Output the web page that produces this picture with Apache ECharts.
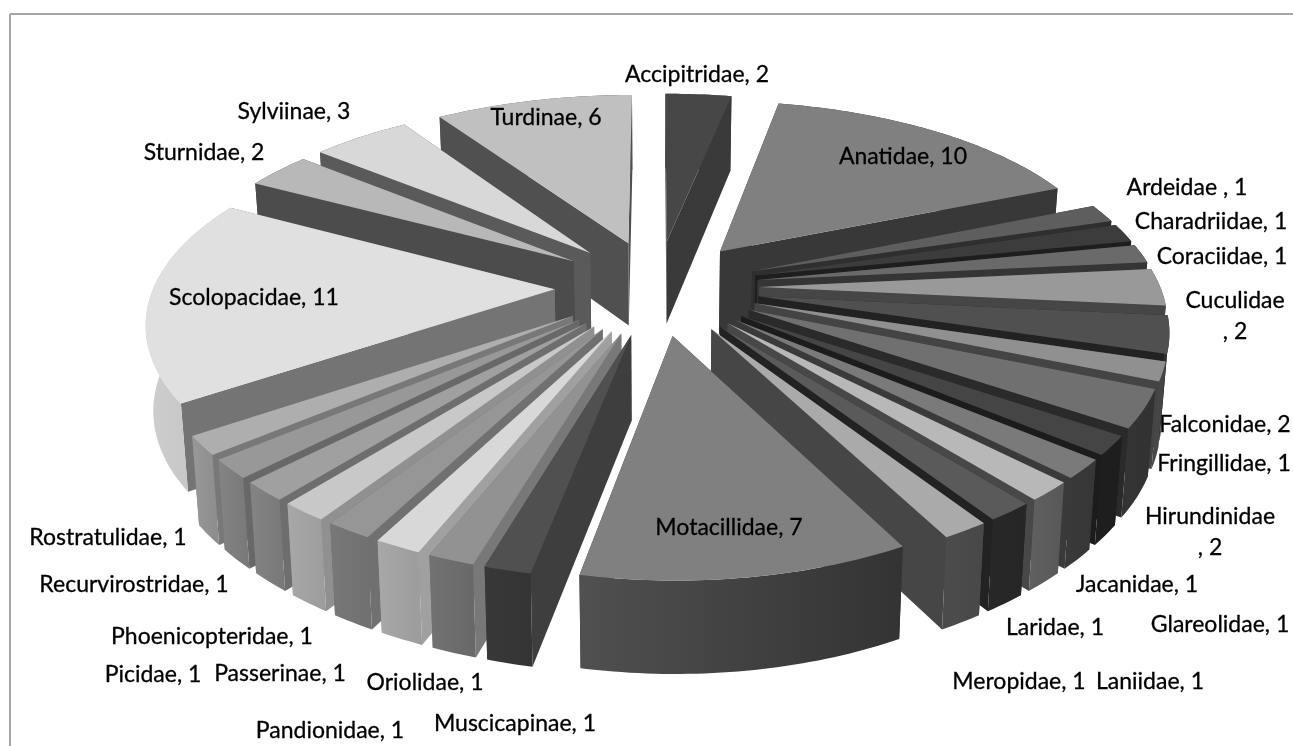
<!DOCTYPE html>
<html>
<head>
<meta charset="utf-8">
<style>html,body{margin:0;padding:0;background:#fff}#chart{width:1293px;height:746px}</style>
<script src="https://cdn.jsdelivr.net/npm/echarts@6/dist/echarts.min.js"></script>
</head>
<body>
<div id="chart"></div>
<script>
// Bird families and number of species per family, clockwise from twelve o'clock
var families = ['Accipitridae','Anatidae','Ardeidae ','Charadriidae','Coraciidae','Cuculidae','Falconidae','Fringillidae','Hirundinidae','Glareolidae','Jacanidae','Laniidae','Laridae','Meropidae','Motacillidae','Muscicapinae','Oriolidae','Pandionidae','Passerinae','Phoenicopteridae','Picidae','Recurvirostridae','Rostratulidae','Scolopacidae','Sturnidae','Sylviinae','Turdinae'];
var counts = [2,10,1,1,1,2,2,1,2,1,1,1,1,1,7,1,1,1,1,1,1,1,1,11,2,3,6];

// Grey levels: upper face, radial walls, rim (left and right ends)
var topGrey = [0x47,0x80,0x5e,0x3c,0x6a,0x99,0x50,0x90,0x70,0x45,0x7a,0xb8,0x5a,0xaa,0x80,0x50,0x92,0xd8,0x96,0xc8,0xa0,0x98,0xae,0xe0,0xb8,0xd8,0xc0];
var wallGrey = [0x3a,0x38,0x2f,0x1e,0x35,0x46,0x22,0x44,0x2a,0x1c,0x3a,0x48,0x22,0x46,0x36,0x3e,0x78,0xa0,0x70,0x90,0x6e,0x68,0x78,0x74,0x4c,0x5a,0x50];
var rimLeftGrey = [0x3a,0x38,0x2f,0x1e,0x35,0x4c,0x32,0x48,0x34,0x1e,0x3a,0x60,0x28,0x4c,0x50,0x38,0x72,0xa8,0x78,0xa8,0x84,0x84,0x98,0xce,0x4c,0x5a,0x50];
var rimRightGrey = [0x3a,0x38,0x2f,0x1e,0x35,0x4c,0x2e,0x44,0x32,0x1e,0x36,0x58,0x26,0x48,0x33,0x34,0x68,0x9c,0x70,0x9c,0x78,0x78,0x8c,0xc0,0x4c,0x5a,0x50];

// Label centres on the page, one [x, y] per family
var labelAnchors = {
  'Accipitridae':[697,75],'Anatidae':[903,157],'Ardeidae ':[1187,188],'Charadriidae':[1211,222],
  'Coraciidae':[1222,257],'Cuculidae':[1235,316],'Falconidae':[1225,425],'Fringillidae':[1224,464],
  'Hirundinidae':[1210,532],'Glareolidae':[1220,625],'Jacanidae':[1137,585],'Laniidae':[1150,682],
  'Laridae':[1055,628],'Meropidae':[1019,682],'Motacillidae':[729,528],'Muscicapinae':[515,724],
  'Oriolidae':[425,683],'Pandionidae':[330,731],'Passerinae':[280,674],'Phoenicopteridae':[212,637],
  'Picidae':[153,675],'Recurvirostridae':[134,585],'Rostratulidae':[108,538],'Scolopacidae':[254,298],
  'Sturnidae':[204,153],'Sylviinae':[294,112],'Turdinae':[546,118]
};
var wrapped = {'Cuculidae':true,'Hirundinidae':true};

// Perspective camera applied to the disc, in disc-radius units
var view = {cx:657, cy:287, sx:401, sy:186, perspX:0.15, perspY:0.165, explode:0.255, thick:84, thickSlope:7.5, baseScale:0.985};

function grey(v){ return 'rgb('+v+','+v+','+v+')'; }
function topPoint(X,Y){
  return [view.cx + view.sx*X/(1-view.perspX*Y), view.cy + view.sy*Y/(1-view.perspY*Y)];
}
function basePoint(X,Y){
  return [view.cx + view.baseScale*view.sx*X/(1-view.perspX*Y), view.cy + view.sy*Y/(1-view.perspY*Y) + view.thick + view.thickSlope*Y];
}

var total = counts.reduce(function(a,b){return a+b;},0);
var wedges = [];
counts.reduce(function(acc,v,i){
  var a0 = acc/total*2*Math.PI, a1 = (acc+v)/total*2*Math.PI, mid = (a0+a1)/2;
  wedges.push({a0:a0,a1:a1,ox:view.explode*Math.sin(mid),oy:-view.explode*Math.cos(mid),depth:-Math.cos(mid)});
  return acc+v;
},0);
// Back-to-front painting order
var order = wedges.map(function(w,i){return i;}).sort(function(a,b){return wedges[a].depth-wedges[b].depth;});

function renderWedge(params, api){
  var i = params.dataIndex, w = wedges[i], rank = order.indexOf(i)*10;
  var n = Math.max(2, Math.ceil((w.a1-w.a0)/(Math.PI/180)));
  var topArc = [], baseArc = [];
  for (var k=0;k<=n;k++){
    var a = w.a0+(w.a1-w.a0)*k/n, X = w.ox+Math.sin(a), Y = w.oy-Math.cos(a);
    topArc.push(topPoint(X,Y));
    baseArc.push(basePoint(X,Y));
  }
  var tipT = topPoint(w.ox,w.oy), tipB = basePoint(w.ox,w.oy);
  var frontRim = w.depth>0;
  var children = [
    {type:'polygon',z2:rank+(frontRim?1:2),shape:{points:[tipT,topArc[0],baseArc[0],tipB]},style:{fill:grey(wallGrey[i])}},
    {type:'polygon',z2:rank+(frontRim?1:2),shape:{points:[tipT,topArc[n],baseArc[n],tipB]},style:{fill:grey(wallGrey[i])}},
    {type:'polygon',z2:rank+(frontRim?2:1),shape:{points:topArc.concat(baseArc.slice().reverse())},style:{fill:new echarts.graphic.LinearGradient(0,0,1,0,[
      {offset:0,color:grey(rimLeftGrey[i])},{offset:1,color:grey(rimRightGrey[i])}])}},
    {type:'polygon',z2:rank+3,shape:{points:[tipT].concat(topArc)},style:{fill:grey(topGrey[i])}}
  ];
  var name = families[i], p = labelAnchors[name];
  children.push({type:'text',z2:1000,style:{
    text:name+(wrapped[name]?'\n':'')+', '+api.value(0),
    x:p[0],y:p[1],align:'center',verticalAlign:'middle',
    font:'23px Lato',lineHeight:31,fill:'#000',stroke:'#000',lineWidth:0.3
  }});
  return {type:'group',children:children};
}

var chart = echarts.init(document.getElementById('chart'));
chart.setOption({
  animation:false,
  backgroundColor:'#fff',
  graphic:[
    {type:'line',silent:true,shape:{x1:10,y1:14,x2:1293,y2:14},style:{stroke:'#a6a6a6',lineWidth:2}},
    {type:'line',silent:true,shape:{x1:10,y1:14,x2:10,y2:746},style:{stroke:'#a6a6a6',lineWidth:2}}
  ],
  series:[{
    type:'custom',
    coordinateSystem:'none',
    silent:true,
    renderItem:renderWedge,
    data:counts.map(function(v){return [v];})
  }]
});
</script>
</body>
</html>
